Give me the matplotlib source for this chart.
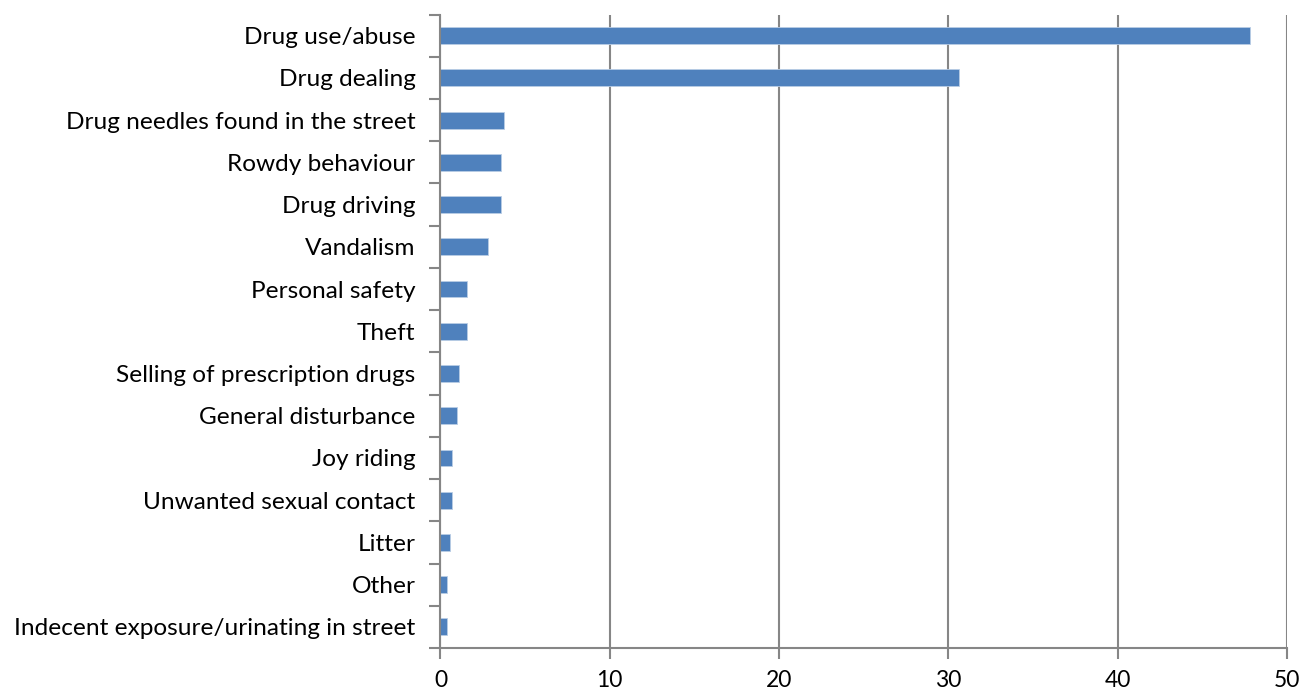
import matplotlib
matplotlib.use("Agg")
import matplotlib.pyplot as plt

categories = [
    "Drug use/abuse",
    "Drug dealing",
    "Drug needles found in the street",
    "Rowdy behaviour",
    "Drug driving",
    "Vandalism",
    "Personal safety",
    "Theft",
    "Selling of prescription drugs",
    "General disturbance",
    "Joy riding",
    "Unwanted sexual contact",
    "Litter",
    "Other",
    "Indecent exposure/urinating in street",
]
values = [47.8, 30.6, 3.75, 3.6, 3.6, 2.8, 1.55, 1.55, 1.1, 0.95, 0.7, 0.7, 0.55, 0.4, 0.4]
xticks = [0, 10, 20, 30, 40, 50]

plt.rcParams['font.family'] = ['Lato', 'DejaVu Sans']

fig = plt.figure(figsize=(13.02, 6.91), dpi=100)
ax = fig.add_axes([0.3383, 0.0622, 0.6502, 0.9168])

n = len(categories)
ypos = list(range(n))
ax.barh(ypos, values, height=0.4, color='#4f81bd', edgecolor='#b9cde5', linewidth=0.6, zorder=3)

ax.set_ylim(n - 0.5, -0.5)
ax.set_xlim(0, 50)
ax.set_xticks(xticks)
ax.set_xticklabels([str(t) for t in xticks], fontsize=16.5)
ax.set_yticks(ypos)
ax.set_yticklabels(categories, fontsize=17.6)
# ticks between categories
ax.set_yticks([i - 0.5 for i in range(n + 1)], minor=True)
ax.tick_params(axis='y', which='major', length=0, pad=18)
ax.tick_params(axis='y', which='minor', length=8, width=1.5, color='#868686', direction='out')
ax.tick_params(axis='x', which='major', length=8, width=1.5, color='#868686', pad=8)

ax.grid(axis='x', color='#868686', linewidth=1.5, zorder=0)
for s in ['top', 'right']:
    ax.spines[s].set_visible(False)
for s in ['left', 'bottom']:
    ax.spines[s].set_color('#868686')
    ax.spines[s].set_linewidth(1.5)
ax.spines['left'].set_zorder(4)

fig.savefig('out.png', dpi=100)
